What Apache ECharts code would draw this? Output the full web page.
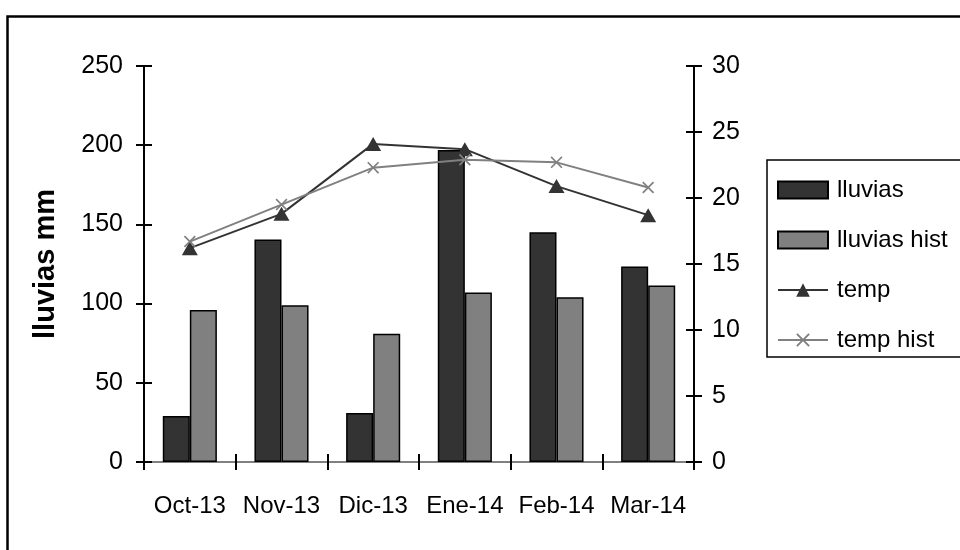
<!DOCTYPE html>
<html>
<head>
<meta charset="utf-8">
<script src="https://cdn.jsdelivr.net/npm/echarts@6/dist/echarts.min.js"></script>
<style>
  html, body { margin: 0; padding: 0; background: #fff; }
  #chart { width: 960px; height: 550px; }
</style>
</head>
<body>
<div id="chart"></div>
<script>
// Monthly rainfall (mm) and temperature, current season vs historical average
const months = ['Oct-13', 'Nov-13', 'Dic-13', 'Ene-14', 'Feb-14', 'Mar-14'];
const lluvias = [29, 140.5, 31, 197, 145, 123.5];
const lluviasHist = [96, 99, 81, 107, 104, 111.5];
const temp = [16.2, 18.8, 24.1, 23.7, 20.9, 18.7];
const tempHist = [16.7, 19.5, 22.3, 22.9, 22.7, 20.8];

const FONT = '"Liberation Sans", Arial, sans-serif';
const DARK = '#333333';
const GREY = '#808080';
const crossSymbol = 'path://M0,1L1,0L5,4L9,0L10,1L6,5L10,9L9,10L5,6L1,10L0,9L4,5Z';

const chart = echarts.init(document.getElementById('chart'), null, { renderer: 'canvas' });

const labelStyle = { color: '#000', fontFamily: FONT, fontSize: 25 };
const tickStyle = { color: '#000', width: 2 };

// Tick marks that straddle each axis line: a second, label-less copy of the
// axis is shifted half a tick inward and carries double-length outward ticks.
chart.setOption({
  animation: false,
  backgroundColor: '#fff',
  textStyle: { fontFamily: FONT },
  graphic: [{
    type: 'rect',
    left: 5, top: 14,
    shape: { width: 1000, height: 600 },
    style: { fill: 'none', stroke: '#000', lineWidth: 2.5 },
    silent: true
  }],
  grid: { left: 144, right: 266, top: 66, bottom: 88, containLabel: false },
  legend: {
    orient: 'vertical',
    left: 767, top: 160,
    padding: [18, 30, 5, 10],
    itemGap: 26,
    itemWidth: 50,
    itemHeight: 17,
    borderColor: '#000',
    borderWidth: 1.5,
    textStyle: { color: '#000', fontFamily: FONT, fontSize: 24, padding: [0, 0, 0, 4] },
    data: [
      { name: 'lluvias', icon: 'rect' },
      { name: 'lluvias hist', icon: 'rect' },
      { name: 'temp' },
      { name: 'temp hist' }
    ]
  },
  xAxis: [
    {
      type: 'category', data: months, position: 'bottom',
      axisLine: { lineStyle: { color: '#000', width: 2 } },
      axisTick: { show: false },
      axisLabel: Object.assign({ margin: 32, interval: 0 }, labelStyle, { fontSize: 24 }),
      splitLine: { show: false }
    },
    {
      type: 'category', data: months, position: 'bottom', offset: -8,
      axisLine: { show: false },
      axisTick: { show: true, interval: 0, length: 16, lineStyle: tickStyle },
      axisLabel: { show: false },
      splitLine: { show: false }
    },
    {
      type: 'category', data: months, position: 'top',
      axisLine: { lineStyle: { color: GREY, width: 2 } },
      axisTick: { show: false },
      axisLabel: { show: false },
      splitLine: { show: false }
    }
  ],
  yAxis: [
    {
      type: 'value', position: 'left', min: 0, max: 250, interval: 50,
      name: 'lluvias mm', nameLocation: 'middle', nameGap: 84, nameRotate: 90,
      nameTextStyle: { color: '#000', fontFamily: FONT, fontSize: 29, fontWeight: 'bold' },
      axisLine: { show: true, lineStyle: { color: '#000', width: 2 } },
      axisTick: { show: false },
      axisLabel: Object.assign({ margin: 21 }, labelStyle),
      splitLine: { show: false }
    },
    {
      type: 'value', position: 'right', min: 0, max: 30, interval: 5,
      axisLine: { show: true, lineStyle: { color: '#000', width: 2 } },
      axisTick: { show: false },
      axisLabel: Object.assign({ margin: 18 }, labelStyle),
      splitLine: { show: false }
    },
    {
      type: 'value', position: 'left', offset: -8, min: 0, max: 250, interval: 50,
      axisLine: { show: false },
      axisTick: { show: true, length: 16, lineStyle: tickStyle },
      axisLabel: { show: false },
      splitLine: { show: false }
    },
    {
      type: 'value', position: 'right', offset: -8, min: 0, max: 30, interval: 5,
      axisLine: { show: false },
      axisTick: { show: true, length: 16, lineStyle: tickStyle },
      axisLabel: { show: false },
      splitLine: { show: false }
    }
  ],
  series: [
    {
      name: 'lluvias', type: 'bar', data: lluvias, xAxisIndex: 0, yAxisIndex: 0,
      barGap: '0%', barCategoryGap: '41%',
      itemStyle: { color: DARK, borderColor: '#000', borderWidth: 1.5 }
    },
    {
      name: 'lluvias hist', type: 'bar', data: lluviasHist, xAxisIndex: 0, yAxisIndex: 0,
      barGap: '0%', barCategoryGap: '41%',
      itemStyle: { color: GREY, borderColor: '#000', borderWidth: 1.5 }
    },
    {
      name: 'temp', type: 'line', data: temp, xAxisIndex: 0, yAxisIndex: 1,
      symbol: 'triangle', symbolSize: [16, 14], showAllSymbol: true,
      lineStyle: { color: DARK, width: 2 },
      itemStyle: { color: DARK, borderWidth: 0 },
      z: 3
    },
    {
      name: 'temp hist', type: 'line', data: tempHist, xAxisIndex: 0, yAxisIndex: 1,
      symbol: crossSymbol, symbolSize: 12, showAllSymbol: true,
      lineStyle: { color: GREY, width: 2 },
      itemStyle: { color: GREY, borderWidth: 0 },
      z: 3
    }
  ]
});
</script>
</body>
</html>
